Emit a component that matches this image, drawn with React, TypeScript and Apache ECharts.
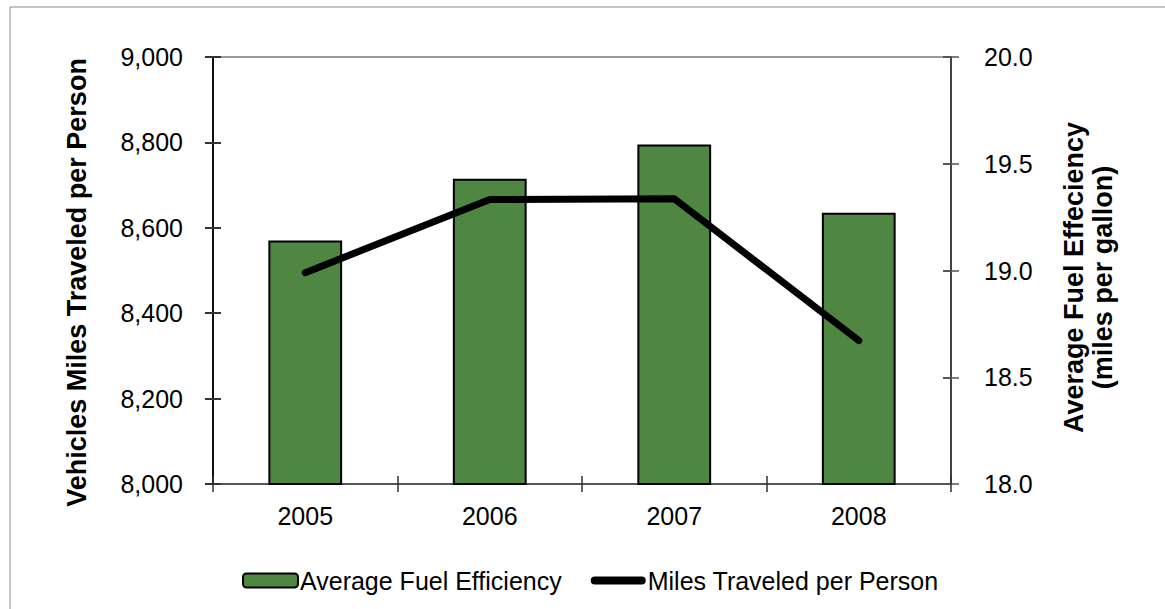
import React, { useEffect, useRef } from "react";
import * as echarts from "echarts";

const years = ["2005", "2006", "2007", "2008"];
const fuelEfficiency = [19.14, 19.43, 19.59, 19.27];
const milesPerPerson = [8495, 8666, 8668, 8336];
const leftTicks = { min: 8000, max: 9000, interval: 200 };
const rightTicks = { min: 18, max: 20, interval: 0.5 };

const FONT = "Liberation Sans, Arial, sans-serif";
const LINE_ICON = "path://M4,0 L51,0 A4,4 0 0 1 51,8 L4,8 A4,4 0 0 1 4,0 Z";

export default function App() {
  const ref = useRef<HTMLDivElement>(null);
  useEffect(() => {
    if (!ref.current) return;
    const chart = echarts.init(ref.current, undefined, { renderer: "svg" });
    const ghostY = (pos: "left" | "right", color: string) => ({
      type: "value",
      position: pos,
      min: pos === "left" ? leftTicks.min : rightTicks.min,
      max: pos === "left" ? leftTicks.max : rightTicks.max,
      interval: pos === "left" ? leftTicks.interval : rightTicks.interval,
      axisLine: { show: false },
      axisTick: { show: true, inside: true, length: 8, lineStyle: { color, width: 2 } },
      axisLabel: { show: false },
      splitLine: { show: false },
    });
    chart.setOption({
      animation: false,
      textStyle: { fontFamily: FONT },
      graphic: [
        {
          type: "rect",
          shape: { x: 10, y: 7, width: 1170, height: 620 },
          style: { fill: "none", stroke: "#8c8c8c", lineWidth: 1 },
          silent: true,
          z: -10,
        },
      ],
      grid: {
        left: 213,
        right: 214,
        top: 57,
        bottom: 125,
        show: true,
        borderColor: "#9a9a9a",
        borderWidth: 2,
      },
      legend: {
        bottom: 11,
        left: 237,
        itemGap: 29,
        itemWidth: 55,
        itemHeight: 14,
        symbolKeepAspect: true,
        textStyle: { fontFamily: FONT, fontSize: 25, color: "#000", padding: [0, 0, 0, -3] },
        data: [
          { name: "Average Fuel Efficiency" },
          { name: "Miles Traveled per Person", icon: LINE_ICON, itemStyle: { color: "#000" } },
        ],
      },
      xAxis: [
        {
          type: "category",
          data: years,
          position: "bottom",
          axisLine: { show: true, lineStyle: { color: "#555", width: 2 } },
          axisTick: { show: true, length: 8, lineStyle: { color: "#333", width: 1.5 } },
          axisLabel: { fontFamily: FONT, fontSize: 25, color: "#000", margin: 19 },
        },
        {
          type: "category",
          data: years,
          position: "bottom",
          axisLine: { show: false },
          axisTick: { show: true, inside: true, length: 8, lineStyle: { color: "#333", width: 1.5 } },
          axisLabel: { show: false },
        },
      ],
      yAxis: [
        {
          type: "value",
          position: "left",
          min: leftTicks.min,
          max: leftTicks.max,
          interval: leftTicks.interval,
          name: "Vehicles Miles Traveled per Person",
          nameLocation: "middle",
          nameRotate: 90,
          nameGap: 123,
          nameTextStyle: {
            fontFamily: FONT,
            fontSize: 27,
            fontWeight: "bold",
            color: "#000",
            padding: [0, 24, 0, 0],
          },
          axisLine: { show: true, lineStyle: { color: "#111", width: 2 } },
          axisTick: { show: true, length: 8, lineStyle: { color: "#333", width: 2 } },
          axisLabel: {
            fontFamily: FONT,
            fontSize: 25,
            color: "#000",
            margin: 30,
            formatter: (v: number) => v.toLocaleString("en-US"),
          },
          splitLine: { show: false },
        },
        {
          type: "value",
          position: "right",
          min: rightTicks.min,
          max: rightTicks.max,
          interval: rightTicks.interval,
          name: "Average Fuel Effeciency\n(miles per gallon)",
          nameLocation: "middle",
          nameRotate: 90,
          nameGap: 108,
          nameTextStyle: {
            fontFamily: FONT,
            fontSize: 27,
            fontWeight: "bold",
            color: "#000",
            lineHeight: 29,
            align: "center",
            padding: [0, 14, 0, 0],
          },
          axisLine: { show: true, lineStyle: { color: "#444", width: 2 } },
          axisTick: { show: true, length: 8, lineStyle: { color: "#555", width: 1.5 } },
          axisLabel: {
            fontFamily: FONT,
            fontSize: 25,
            color: "#000",
            margin: 33,
            formatter: (v: number) => v.toFixed(1),
          },
          splitLine: { show: false },
        },
        ghostY("left", "#333"),
        ghostY("right", "#555"),
      ],
      series: [
        {
          name: "Average Fuel Efficiency",
          type: "bar",
          xAxisIndex: 0,
          yAxisIndex: 1,
          data: fuelEfficiency,
          barWidth: "40%",
          itemStyle: { color: "#4f8642", borderColor: "#000", borderWidth: 2 },
          z: 2,
        },
        {
          name: "Miles Traveled per Person",
          type: "line",
          xAxisIndex: 0,
          yAxisIndex: 0,
          data: milesPerPerson,
          symbol: "none",
          showSymbol: false,
          lineStyle: { color: "#000", width: 7, cap: "round", join: "round" },
          itemStyle: { color: "#000" },
          z: 3,
        },
      ],
    });
    return () => chart.dispose();
  }, []);
  return (
    <div
      ref={ref}
      style={{ position: "fixed", left: 0, top: 0, width: 1165, height: 609, background: "#fff" }}
    />
  );
}
